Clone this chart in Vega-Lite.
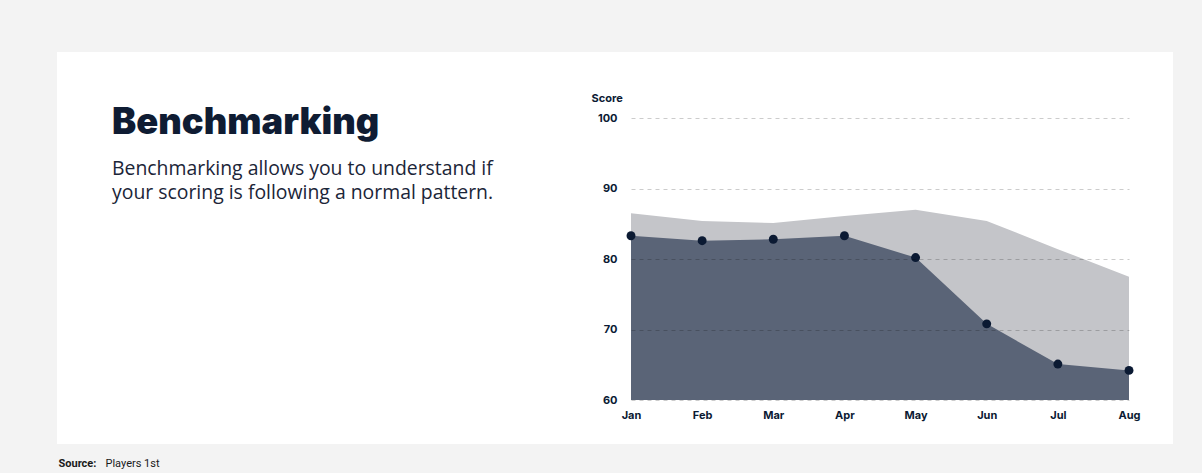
{
  "$schema": "https://vega.github.io/schema/vega-lite/v6.json",
  "autosize": "none",
  "width": 1116,
  "height": 392,
  "padding": {"left": 57, "top": 52, "right": 29, "bottom": 29},
  "background": "#f3f3f3",
  "config": {
    "view": {"stroke": null, "fill": "#ffffff"},
    "axis": {"labelFont": "Inter", "labelFontWeight": 700, "labelFontSize": 11, "labelColor": "#0b1a33", "titleFont": "Inter", "titleColor": "#0b1a33"}
  },
  "title": {
    "text": "Benchmarking",
    "subtitle": ["Benchmarking allows you to understand if", "your scoring is following a normal pattern."],
    "anchor": "start",
    "frame": "group",
    "orient": "top",
    "dx": 55,
    "offset": -150,
    "font": "Inter",
    "fontSize": 36.3,
    "fontWeight": 900,
    "color": "#0f1c33",
    "subtitleFont": "Open Sans",
    "subtitleFontSize": 19.4,
    "subtitleColor": "#1b2538",
    "subtitleLineHeight": 24,
    "subtitlePadding": 18
  },
  "data": {
    "values": [
      {"month": "Jan", "score": 83.3, "bench": 86.5},
      {"month": "Feb", "score": 82.6, "bench": 85.4},
      {"month": "Mar", "score": 82.8, "bench": 85.1},
      {"month": "Apr", "score": 83.3, "bench": 86.1},
      {"month": "May", "score": 80.2, "bench": 87.0},
      {"month": "Jun", "score": 70.8, "bench": 85.4},
      {"month": "Jul", "score": 65.1, "bench": 81.4},
      {"month": "Aug", "score": 64.2, "bench": 77.5}
    ]
  },
  "encoding": {
    "x": {
      "field": "month",
      "type": "ordinal",
      "sort": null,
      "scale": {"type": "point", "range": [574, 1072], "padding": 0},
      "axis": {"orient": "bottom", "offset": -44, "labelAngle": 0, "ticks": false, "domain": false, "grid": false, "labelPadding": 9, "title": "Source:", "titleFont": "Roboto", "titleFontSize": 11, "titleFontWeight": 700, "titleColor": "#1a1a1a", "titleAngle": 0, "titleAlign": "left", "titleBaseline": "middle", "titleX": 1, "titleY": 63}
    }
  },
  "layer": [
    {
      "mark": {"type": "area", "color": "#c4c5c9", "opacity": 1},
      "encoding": {
        "y": {
          "field": "bench",
          "type": "quantitative",
          "scale": {"domain": [60, 100], "range": [348, 66], "zero": false, "nice": false},
          "axis": {"orient": "left", "offset": -574, "values": [60, 70, 80, 90, 100], "ticks": false, "domain": false, "grid": true, "gridColor": "#000000", "gridOpacity": 0.2, "gridDash": [4, 4], "gridWidth": 1, "zindex": 1, "labelPadding": 14, "labelBaseline": "middle", "title": "Score", "titleFontSize": 11, "titleFontWeight": 700, "titleAngle": 0, "titleAlign": "left", "titleBaseline": "middle", "titleX": -40, "titleY": 46}
        },
        "y2": {"datum": 60}
      }
    },
    {
      "mark": {"type": "area", "color": "#5a6477", "opacity": 1},
      "encoding": {
        "y": {"field": "score", "type": "quantitative", "axis": null},
        "y2": {"datum": 60}
      }
    },
    {
      "mark": {"type": "point", "filled": true, "color": "#0b1a33", "opacity": 1, "size": 80},
      "encoding": {
        "y": {
          "field": "score",
          "type": "quantitative",
          "axis": {"orient": "right", "offset": 0, "labels": false, "ticks": false, "domain": false, "grid": false, "title": "Players 1st", "titleFont": "Roboto", "titleFontSize": 11, "titleFontWeight": 400, "titleColor": "#1a1a1a", "titleAngle": 0, "titleAlign": "left", "titleBaseline": "middle", "titleX": -1068, "titleY": 411}
        }
      }
    }
  ],
  "resolve": {"axis": {"y": "independent"}}
}
